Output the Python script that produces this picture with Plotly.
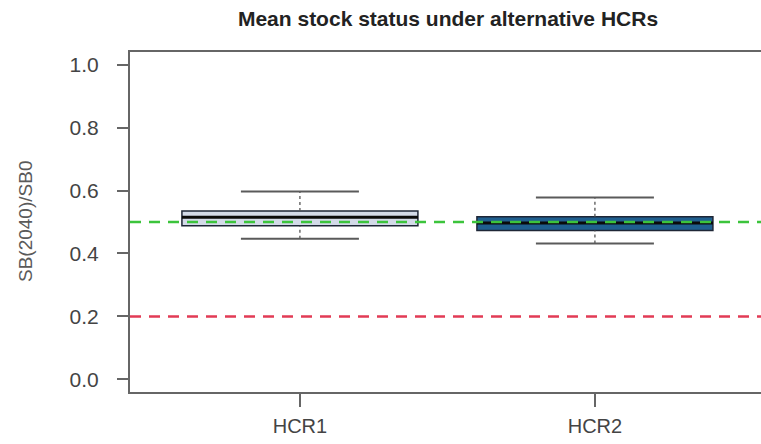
import plotly.graph_objects as go

# Summary of SB(2040)/SB0 across simulations for each harvest control rule
hcrs = ["HCR1", "HCR2"]
lower_whisker = [0.447, 0.432]
q1 = [0.488, 0.473]
median = [0.515, 0.497]
q3 = [0.535, 0.517]
upper_whisker = [0.597, 0.578]
box_fill = ["#d3dae8", "#1f5f8f"]

# Reference levels
target_level = 0.5
limit_level = 0.2

y_ticks = [0.0, 0.2, 0.4, 0.6, 0.8, 1.0]

positions = list(range(1, len(hcrs) + 1))
box_width = 0.8
staple_half = 0.2

FONT = "Liberation Sans, Arial, sans-serif"

fig = go.Figure()

for i, name in enumerate(hcrs):
    x = positions[i]
    fig.add_trace(go.Box(
        x=[x], q1=[q1[i]], median=[median[i]], q3=[q3[i]],
        lowerfence=[q1[i]], upperfence=[q3[i]],
        width=box_width, whiskerwidth=0,
        fillcolor=box_fill[i],
        line=dict(color="#1e2636", width=1.5),
        name=name, showlegend=False, hoverinfo="skip",
    ))
    # dashed whiskers
    for a, b in ((lower_whisker[i], q1[i]), (q3[i], upper_whisker[i])):
        fig.add_trace(go.Scatter(
            x=[x, x], y=[a, b], mode="lines",
            line=dict(color="#555555", width=1.3, dash="3px,3px"),
            showlegend=False, hoverinfo="skip",
        ))
    # staples
    for yv in (lower_whisker[i], upper_whisker[i]):
        fig.add_trace(go.Scatter(
            x=[x - staple_half, x + staple_half], y=[yv, yv], mode="lines",
            line=dict(color="#5a5a5a", width=2),
            showlegend=False, hoverinfo="skip",
        ))
    # heavy median bar
    fig.add_trace(go.Scatter(
        x=[x - box_width / 2, x + box_width / 2], y=[median[i], median[i]],
        mode="lines", line=dict(color="#0a0a0a", width=3),
        showlegend=False, hoverinfo="skip",
    ))

# reference lines drawn over the boxes
for level, color in ((target_level, "#3cc43c"), (limit_level, "#e23b55")):
    fig.add_shape(
        type="line", xref="paper", yref="y", x0=0, x1=1, y0=level, y1=level,
        line=dict(color=color, width=2.5, dash="11px,8px"), layer="above",
    )

W, H = 761, 444
left, top, bottom = 130, 52, 52
plot_w = W - left
px_per_unit = 295.0
x_lo = 0.424
x_hi = x_lo + plot_w / px_per_unit

fig.update_layout(
    width=W, height=H,
    margin=dict(l=left, r=0, t=top, b=bottom, pad=0),
    paper_bgcolor="white", plot_bgcolor="white",
    font=dict(family=FONT, color="#444444"),
    title=dict(
        text="<b>Mean stock status under alternative HCRs</b>",
        font=dict(family=FONT, size=21, color="#222222"),
        x=(left + 766) / 2 / W, xanchor="center", xref="container",
        y=1 - 19 / H, yanchor="middle", yref="container",
    ),
    xaxis=dict(
        range=[x_lo, x_hi], tickvals=positions, ticktext=hcrs,
        showline=True, linecolor="#666666", linewidth=2, mirror=True,
        ticks="outside", ticklen=13, tickwidth=2, tickcolor="#666666",
        tickfont=dict(size=20, color="#444444"),
        showgrid=False, zeroline=False, ticklabelstandoff=2,
    ),
    yaxis=dict(
        range=[-0.04, 1.04], tickvals=y_ticks,
        ticktext=[f"{v:.1f}" for v in y_ticks],
        showline=True, linecolor="#666666", linewidth=2,
        ticks="outside", ticklen=11, tickwidth=2, tickcolor="#666666",
        tickfont=dict(size=21, color="#444444"),
        showgrid=False, zeroline=False, ticklabelstandoff=14,
    ),
    annotations=[dict(
        text="SB(2040)/SB0", textangle=-90,
        xref="paper", yref="paper", x=(25 - left) / plot_w, y=0.5,
        xanchor="center", yanchor="middle", showarrow=False,
        font=dict(family=FONT, size=19, color="#5a5a5a"),
    )],
)

fig.write_html("out.html")
